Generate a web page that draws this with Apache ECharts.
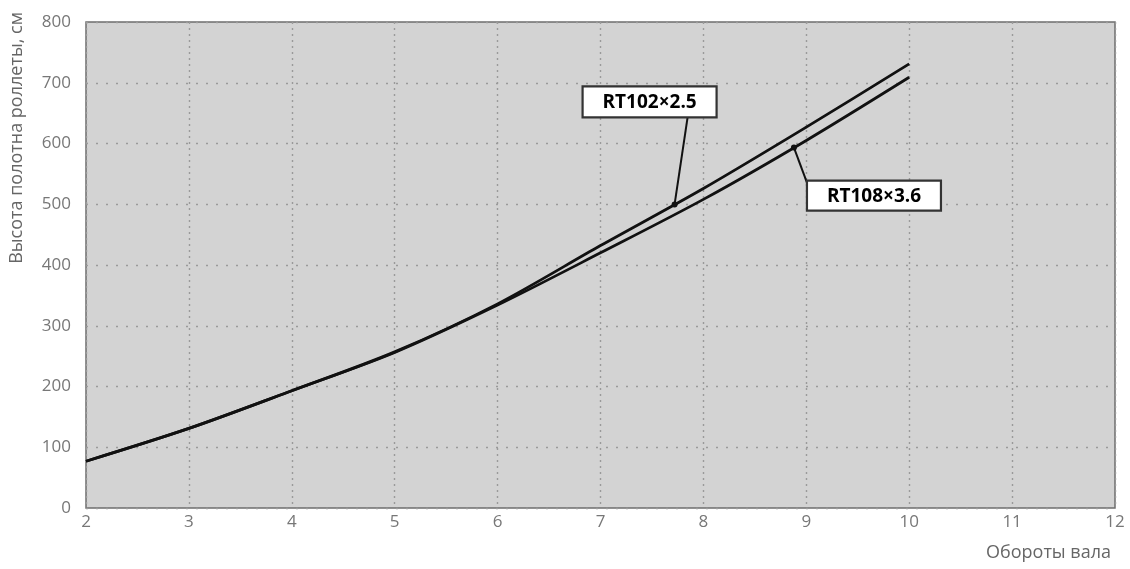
<!DOCTYPE html>
<html>
<head>
<meta charset="utf-8">
<script src="https://cdn.jsdelivr.net/npm/echarts@6/dist/echarts.min.js"></script>
<style>
html,body{margin:0;padding:0;background:#fff;}
#c{width:1130px;height:569px;}
</style>
</head>
<body>
<div id="c"></div>
<script>
var turns = [2, 3, 4, 5, 6, 7, 8, 9, 10];
var rt102 = [77, 131, 193, 257, 336, 432, 526, 627, 731];
var rt108 = [77, 131, 193, 256, 334, 420, 508, 605, 709];
var seriesNames = ['RT102×2.5', 'RT108×3.6'];
var yTitle = 'Высота полотна роллеты, см';
var xTitle = 'Обороты вала';

var chart = echarts.init(document.getElementById('c'));
var font = '"Open Sans", "Noto Sans", sans-serif';
function pairs(v){ return turns.map(function(t,i){ return [t, v[i]]; }); }

chart.setOption({
  animation: false,
  backgroundColor: '#ffffff',
  grid: {left: 86, right: 15, top: 22, bottom: 61, show: true,
         backgroundColor: '#d3d3d3', borderColor: '#6e6e6e', borderWidth: 1.5},
  xAxis: {type: 'value', min: 2, max: 12, interval: 1,
    axisLine: {show: false}, axisTick: {show: false},
    axisLabel: {color: '#777', fontSize: 17, fontFamily: font, margin: 6},
    splitLine: {show: true, lineStyle: {color: '#9a9a9a', type: [2, 4], width: 1.4}}},
  yAxis: {type: 'value', min: 0, max: 800, interval: 100,
    axisLine: {show: false}, axisTick: {show: false},
    axisLabel: {color: '#777', fontSize: 17, fontFamily: font, margin: 15},
    splitLine: {show: true, lineStyle: {color: '#9a9a9a', type: [2, 8], width: 1.4}}},
  series: [
    {name: seriesNames[0], type: 'line', smooth: 0.3, symbol: 'none', data: pairs(rt102),
     lineStyle: {color: '#111', width: 2.8}},
    {name: seriesNames[1], type: 'line', smooth: 0.3, symbol: 'none', data: pairs(rt108),
     lineStyle: {color: '#111', width: 2.8}}
  ]
});

function addLabels(){
  var a1 = chart.convertToPixel({gridIndex: 0}, [7.72, 432 + 0.72 * (526 - 432)]);
  var a2 = chart.convertToPixel({gridIndex: 0}, [8.88, 508 + 0.88 * (605 - 508)]);
  var g = [];
  var b1 = {x: a1[0] - 92, y: a1[1] - 118, w: 134, h: 31};
  g.push({type: 'line', shape: {x1: a1[0], y1: a1[1], x2: a1[0] + 13, y2: b1.y + b1.h}, style: {stroke: '#111', lineWidth: 2}, z: 50});
  g.push({type: 'circle', shape: {cx: a1[0], cy: a1[1], r: 3}, style: {fill: '#111'}, z: 51});
  g.push({type: 'rect', shape: {x: b1.x, y: b1.y, width: b1.w, height: b1.h}, style: {fill: '#fff', stroke: '#333', lineWidth: 2.2}, z: 52});
  g.push({type: 'text', x: b1.x + b1.w / 2, y: b1.y + b1.h / 2 + 1, style: {text: seriesNames[0], fill: '#000', font: 'bold 19px ' + font, align: 'center', verticalAlign: 'middle'}, z: 53});
  var b2 = {x: a2[0] + 13, y: a2[1] + 33, w: 134, h: 30};
  g.push({type: 'line', shape: {x1: a2[0], y1: a2[1], x2: b2.x, y2: b2.y + 2}, style: {stroke: '#111', lineWidth: 2}, z: 50});
  g.push({type: 'circle', shape: {cx: a2[0], cy: a2[1], r: 3}, style: {fill: '#111'}, z: 51});
  g.push({type: 'rect', shape: {x: b2.x, y: b2.y, width: b2.w, height: b2.h}, style: {fill: '#fff', stroke: '#333', lineWidth: 2.2}, z: 52});
  g.push({type: 'text', x: b2.x + b2.w / 2, y: b2.y + b2.h / 2 + 1, style: {text: seriesNames[1], fill: '#000', font: 'bold 19px ' + font, align: 'center', verticalAlign: 'middle'}, z: 53});
  g.push({type: 'text', x: 17, y: 138, rotation: Math.PI / 2, style: {text: yTitle, fill: '#666', font: '18px ' + font, align: 'center', verticalAlign: 'middle'}});
  g.push({type: 'text', x: 1111, y: 553, style: {text: xTitle, fill: '#666', font: '18px ' + font, align: 'right', verticalAlign: 'middle'}});
  chart.setOption({graphic: g});
}
addLabels();
</script>
</body>
</html>
